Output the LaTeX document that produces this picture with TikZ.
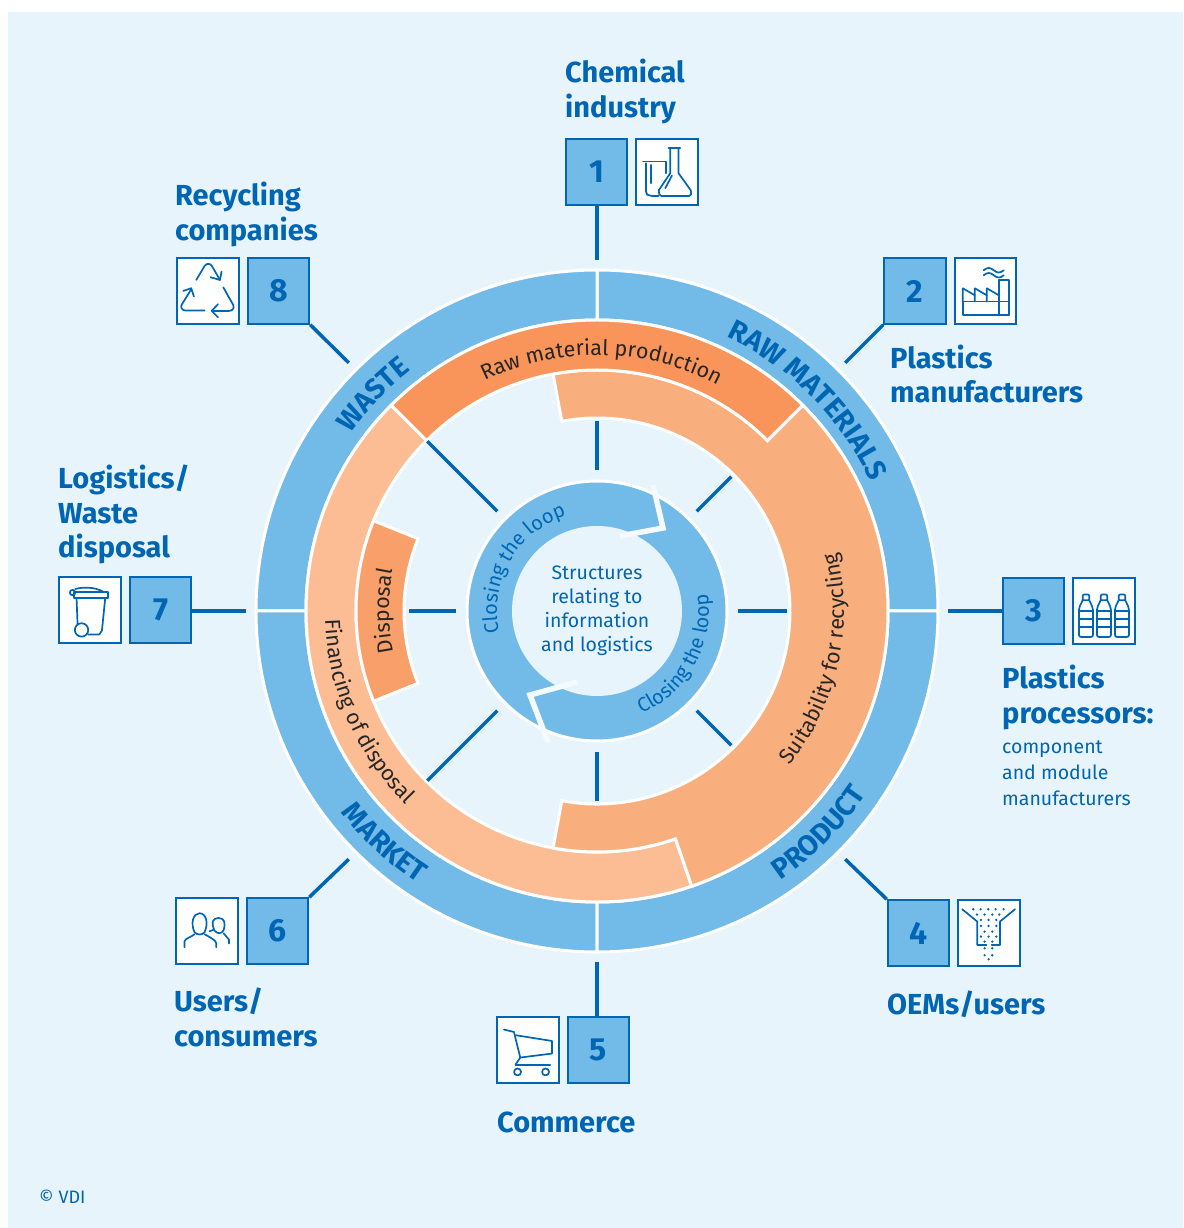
\documentclass[tikz,border=0pt]{standalone}
\usepackage{fontspec}
\setmainfont{Fira Sans}
\usetikzlibrary{positioning, decorations.text}
\definecolor{vdibg}{rgb}{0.910, 0.957, 0.984}
\definecolor{vdiblue}{rgb}{0, 0.400, 0.702}
\definecolor{vdisky}{rgb}{0.447, 0.733, 0.910}
\definecolor{vdiraw}{rgb}{0.976, 0.584, 0.353}
\definecolor{vdisuit}{rgb}{0.976, 0.682, 0.490}
\definecolor{vdifin}{rgb}{0.988, 0.741, 0.580}
\definecolor{vdidisp}{rgb}{0.976, 0.627, 0.416}
\newcommand{\ringfont}{\bfseries\fontsize{28.5}{28.5}\selectfont\color{vdiblue}}
\newcommand{\bandfont}{\fontsize{21.5}{21.5}\selectfont\color{black!85}}
\newcommand{\loopfont}{\fontsize{20}{20}\selectfont\color{vdiblue}}
\newcommand{\sector}[5]{\filldraw[#1, draw=white, line width=3pt] (#2:#4) arc (#2:#3:#4) -- (#3:#5) arc (#3:#2:#5) -- cycle;}
\newcommand{\arctext}[5]{\path[decorate, decoration={text along path, text={|#1|#2}, text align={center}}] (#3:#5) arc (#3:#4:#5);}
\tikzset{
    numbox/.style = {draw=vdiblue, fill=vdisky, line width=2pt, minimum width=61.5pt, minimum height=65.5pt, inner sep=0pt, text=vdiblue, font=\bfseries\fontsize{32}{32}\selectfont},
    iconbox/.style = {draw=vdiblue, fill=white, line width=2pt, minimum width=61.5pt, minimum height=65.5pt, inner sep=0pt},
    spoke/.style = {draw=vdiblue, line width=3.5pt},
    icon/.style = {draw=vdiblue, line width=1.7pt, line cap=round, line join=round},
    lbl/.style = {anchor=north west, align=left, inner sep=0pt, text=vdiblue, font=\bfseries\fontsize{29}{34.5}\selectfont},
    sublbl/.style = {anchor=north west, align=left, inner sep=0pt, text=vdiblue, font=\fontsize{19.5}{26}\selectfont},
}
\begin{document}
\begin{tikzpicture}[x=1pt, y=1pt]
    % origin is the centre of the rings
    \useasboundingbox (-597,-617) rectangle (586,611);
    \fill[white] (-597,-617) rectangle (586,611);
    \fill[vdibg] (-589,-617) rectangle (586,599);

    % outer ring
    \sector{fill=vdisky}{0}{90}{341}{291}
    \sector{fill=vdisky}{90}{180}{341}{291}
    \sector{fill=vdisky}{180}{270}{341}{291}
    \sector{fill=vdisky}{270}{360}{341}{291}

    % orange bands
    \sector{fill=vdifin}{135}{289}{291}{241}
    \filldraw[fill=vdisuit, draw=white, line width=3pt] (45:291) arc (45:-71:291) -- (-71:241) arc (-71:-100.5:241)
        -- (-100.5:193) arc (-100.5:100.5:193) -- (100.5:241) arc (100.5:45:241) -- cycle;
    \sector{fill=vdiraw}{45}{135}{291}{241}
    \sector{fill=vdidisp}{158}{202}{241}{193}

    % centre ring
    \filldraw[fill=vdisky, draw=white, line width=3pt] (0,0) circle (130);
    \fill[vdibg] (0,0) circle (85);
    \draw[white!50!vdibg, line width=5.5pt, line join=miter] (56,126) -- (66,83) -- (23,75);
    \draw[white!50!vdibg, line width=5.5pt, line join=miter] (-49,-131) -- (-67,-84) -- (-20,-71);
    \node[anchor=center, align=center, inner sep=0pt, text=vdiblue, font=\fontsize{19.5}{24}\selectfont] (centre) at (0,0) {Structures\\relating to\\information\\and logistics};

    % ring texts
    \arctext{\ringfont}{RAW MATERIALS}{75}{15}{303}
    \arctext{\ringfont}{WASTE}{166}{106}{304}
    \arctext{\ringfont}{PRODUCT}{-75}{-15}{326}
    \arctext{\ringfont}{MARKET}{197.5}{257.5}{326}
    \arctext{\bandfont}{Raw material production}{129}{49}{256}
    \arctext{\bandfont}{Suitability for recycling}{-50}{25}{247}
    \arctext{\bandfont}{Financing of disposal}{164.5}{242.5}{272}
    \arctext{\bandfont}{Disposal}{205}{155}{208}
    \arctext{\loopfont}{Closing the loop}{200}{100}{100}
    \arctext{\loopfont}{Closing the loop}{-81}{23}{112}

    % spokes inside the rings
    \foreach \n/\a/\rr in {1/90/190, 2/45/190, 3/0/190, 4/-45/190, 5/-90/190, 6/-135/240, 7/180/188, 8/135/240}{
        \coordinate (P\n) at (\a:141);
        \coordinate (Q\n) at (\a:\rr);
        \draw[spoke] (P\n) -- (Q\n);
    }

    % numbered boxes with their icon boxes
    \foreach \n/\x/\y in {1/-0.5/439, 2/318/320, 3/436.5/0, 4/321.5/-322, 5/1.5/-439, 6/-319.5/-320, 7/-436.5/1, 8/-318.5/320}{
        \node[numbox] (B\n) at (\x,\y) {\n};
    }
    \foreach \n/\a in {1/90, 2/45, 3/0, 4/-45, 5/-90, 6/-135, 7/180, 8/135}{
        \coordinate (S\n) at (\a:351);
    }
    \foreach \n/\sd in {1/right, 2/right, 3/right, 4/right, 5/left, 6/left, 7/left, 8/left}{
        \node[iconbox, \sd=7pt of B\n] (I\n) {};
    }
    \draw[spoke] (S1) -- (S1 |- B1.south);
    \draw[spoke] (B2.south west) -- (S2);
    \draw[spoke] (S3) -- (S3 -| B3.west);
    \draw[spoke] (B4.north west) -- (S4);
    \draw[spoke] (S5) -- (S5 |- B5.north);
    \draw[spoke] (B6.north east) -- (S6);
    \draw[spoke] (S7) -- (S7 -| B7.east);
    \draw[spoke] (B8.south east) -- (S8);

    % flasks
    \begin{scope}[shift={(I1.north west)}, yscale=-1, icon]
        \draw (7.7,23.3) -- (31,23.3) -- (31,35);
        \draw (10.7,25) -- (10.7,53.3) -- (12,56.5) -- (16.7,57.7) -- (23.3,57.7);
        \draw (16,26.7) -- (16,45);
        \draw (33.3,10) -- (45,10);
        \draw (35,10) -- (35,35) -- (23.5,52) -- (24,56) -- (26,57.7) -- (54,57.7) -- (56,56) -- (55.5,52) -- (43.3,35) -- (43.3,10);
        \draw (36.7,37.3) -- (30,50);
    \end{scope}
    % factory
    \begin{scope}[shift={(I2.north west)}, yscale=-1, icon]
        \draw (9,44.3) rectangle (55,57.7);
        \draw (45,22.7) rectangle (55,57.7);
        \draw (9,44.3) -- (9,31) -- (21,38) -- (21,44.3);
        \draw (21,38) -- (21,31) -- (33,38) -- (33,44.3);
        \draw (33,38) -- (33,31) -- (45,38);
        \draw (30,13) .. controls (33.5,10) and (36.5,10) .. (40,13) .. controls (43.5,16) and (46.5,16) .. (50,13);
        \draw (30,18) .. controls (33.5,15) and (36.5,15) .. (40,18) .. controls (43.5,21) and (46.5,21) .. (50,18);
    \end{scope}
    % bottles
    \begin{scope}[shift={(I3.north west)}, yscale=-1, icon]
        \foreach \x in {13.7, 31.7, 49.7}{
            \draw[rounded corners=1pt] (\x-3.3,23) rectangle (\x+3.3,17.3);
            \draw[rounded corners=2pt] (\x-3.3,23) -- (\x-7,30.7) -- (\x-7,59.7) -- (\x+7,59.7) -- (\x+7,30.7) -- (\x+3.3,23);
            \foreach \y in {34, 41.7, 49.7}{
                \draw (\x-7,\y) -- (\x+7,\y);
            }
        }
    \end{scope}
    % funnel
    \begin{scope}[shift={(I4.north west)}, yscale=-1, icon]
        \draw (5,10) -- (20,22.3) -- (20,45.7) -- (29.3,45.7);
        \draw (57.7,10) -- (42.7,22.3) -- (42.7,45.7) -- (34.3,45.7);
        \foreach \y/\xs in {10/{16,23.3,31,38.3,46.3}, 15.3/{19.7,27.3,35,42}, 20.7/{23.7,31.3,39}, 26.7/{23.7,31.3,39}, 32.3/{27.3,35}, 37.3/{23.7,31.3,39}, 42.3/{27.3,35}, 49/{27.3,35}, 56/{27.3,35}, 60/{31.3}}{
            \foreach \x in \xs{
                \fill[vdiblue] (\x,\y) circle (1.3);
            }
        }
    \end{scope}
    % cart
    \begin{scope}[shift={(I5.north west)}, yscale=-1, icon]
        \draw (7.7,13.3) -- (17.7,15.7) -- (24,41.3) -- (19.3,48.3);
        \draw (19.3,48.8) -- (54,48.8);
        \draw (19.7,19) -- (55.7,24.7) -- (55.7,37.3) -- (24,41.3);
        \draw (21.3,55.7) circle (3.5);
        \draw (49.3,55.7) circle (3.5);
    \end{scope}
    % people
    \begin{scope}[shift={(I6.north west)}, yscale=-1, icon]
        \draw (19.3,35) .. controls (15,26) and (18,16) .. (24.3,16) .. controls (31,16) and (33.5,26) .. (29.3,35) .. controls (27,38) and (22,38) .. (19.3,35);
        \draw (9.3,50) -- (9.3,44) .. controls (10,41) and (16,40) .. (19.3,37);
        \draw (29.3,37) .. controls (33,39) and (41,43) .. (41,46) -- (41,50);
        \draw (34.3,34) .. controls (36,33.5) and (37.5,33) .. (38.7,32) .. controls (36,26) and (37,20.7) .. (43.3,20.7) .. controls (49.5,20.7) and (50.5,26) .. (48.3,33) .. controls (46,37) and (42,37) .. (39,33);
        \draw (48.3,36) -- (53.7,42.3) -- (53.7,46.3);
    \end{scope}
    % bin
    \begin{scope}[shift={(I7.north west)}, yscale=-1, icon]
        \draw (17,12.7) .. controls (24,11) and (36,10) .. (46,16);
        \draw (16,16) rectangle (50,21.7);
        \draw (14.3,16.3) circle (2.7);
        \draw (18.3,21.7) -- (19.3,47.5);
        \draw (47,21.7) -- (43.7,54.3) -- (41,58.3) -- (30,58.3);
        \draw (23.3,53.7) circle (6.7);
    \end{scope}
    % recycling
    \begin{scope}[shift={(I8.north west)}, yscale=-1, icon]
        \draw (20,22.7) -- (28.5,8.5) .. controls (30,6) and (34,6) .. (35.5,8.5) -- (43.7,22.7);
        \draw (34.3,20) -- (43.7,22.7) -- (45.3,14.3);
        \draw (47,30) -- (57,47.7) .. controls (58.5,51) and (56,53.7) .. (52.7,53.7) -- (36,53.7);
        \draw (41.7,47) -- (35.5,53.7) -- (41.7,60);
        \draw (28.3,53.3) -- (9.3,53.3) .. controls (6,53.3) and (4,50) .. (5.3,47.7) -- (15,32);
        \draw (7,33.7) -- (15,31) -- (17.7,39.3);
    \end{scope}

    % labels
    \node[lbl] (L1) at (-32,552) {Chemical\\industry};
    \node[lbl] (L2) at (293,266.5) {Plastics\\manufacturers};
    \node[lbl] (L3) at (405,-54) {Plastics\\processors:};
    \node[sublbl] (L3b) at (405,-129.5) {component\\and module\\manufacturers};
    \node[lbl] (L4) at (290,-380) {OEMs/users};
    \node[lbl] (L5) at (-100,-501) {Commerce};
    \node[lbl] (L6) at (-423,-377) {Users/\\consumers};
    \node[lbl] (L7) at (-539,146) {Logistics/\\Waste\\disposal};
    \node[lbl] (L8) at (-422,429) {Recycling\\companies};
    \node[anchor=west, inner sep=0pt, text=vdiblue, font=\fontsize{18}{18}\selectfont] (copy) at (-558,-586) {© VDI};
\end{tikzpicture}
\end{document}
